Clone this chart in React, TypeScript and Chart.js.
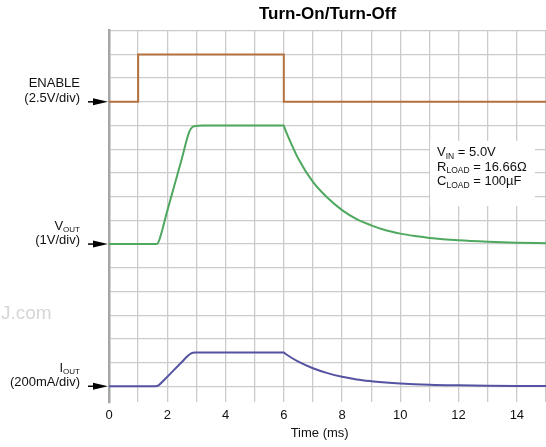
import React, { useEffect, useRef } from "react";
import { Chart, registerables } from "chart.js";
Chart.register(...registerables);

const FONT = "'Liberation Sans', Arial, Helvetica, sans-serif";

const chartTitle = "Turn-On/Turn-Off";
const xAxisTitle = "Time (ms)";
const xLabelTicks = [0, 2, 4, 6, 8, 10, 12, 14];

// ENABLE (V), 2.5 V/div, reference at division 12
const enableT = [0, 1, 1, 6, 6, 15];
const enableV = [0, 0, 5, 5, 0, 0];
// VOUT (V), 1 V/div, reference at division 6
const voutT = [0, 1.64, 1.72, 2.0, 2.5, 2.75, 2.85, 2.95, 3.2, 6.0, 6.04, 6.25, 6.5, 7.0, 7.5, 8.0, 8.5, 9.0, 9.5, 10.0, 10.5, 11.0, 12.0, 13.0, 14.0, 15.0];
const voutV = [0, 0, 0.15, 1.4, 3.6, 4.72, 4.92, 4.98, 5.0, 5.0, 4.86, 4.25, 3.6, 2.62, 1.95, 1.43, 1.05, 0.79, 0.58, 0.44, 0.34, 0.26, 0.16, 0.1, 0.06, 0.03];
// IOUT (mA), 200 mA/div, reference at division 0
const ioutT = [0, 1.6, 1.7, 1.9, 2.2, 2.5, 2.7, 2.82, 2.95, 6.0, 6.04, 6.25, 6.5, 7.0, 7.5, 8.0, 8.5, 9.0, 9.5, 10.0, 11.0, 12.0, 13.0, 14.0, 15.0];
const ioutMA = [0, 0, 8, 55, 130, 205, 255, 278, 285, 285, 277, 243, 208, 152, 111, 80, 58, 43, 31, 23, 13, 8, 5, 3, 2];

const traces = [
  { name: "ENABLE", unit: "(2.5V/div)", sub: "", t: enableT, v: enableV, perDiv: 2.5, ref: 12, color: "#b5723f", smooth: false },
  { name: "V", unit: "(1V/div)", sub: "OUT", t: voutT, v: voutV, perDiv: 1, ref: 6, color: "#4fa85f", smooth: true },
  { name: "I", unit: "(200mA/div)", sub: "OUT", t: ioutT, v: ioutMA, perDiv: 200, ref: 0, color: "#5353a2", smooth: true },
];

const infoLines = [
  [{ t: "V", s: false }, { t: "IN", s: true }, { t: " = 5.0V", s: false }],
  [{ t: "R", s: false }, { t: "LOAD", s: true }, { t: " = 16.66Ω", s: false }],
  [{ t: "C", s: false }, { t: "LOAD", s: true }, { t: " = 100µF", s: false }],
];

type Part = { t: string; s: boolean };

function drawRich(ctx: CanvasRenderingContext2D, parts: Part[], x: number, y: number, size: number, subSize: number, align: "left" | "right") {
  const widths = parts.map((p) => {
    ctx.font = `${p.s ? subSize : size}px ${FONT}`;
    return ctx.measureText(p.t).width;
  });
  const total = widths.reduce((a, b) => a + b, 0);
  let cx = align === "right" ? x - total : x;
  ctx.textAlign = "left";
  ctx.textBaseline = "alphabetic";
  parts.forEach((p, i) => {
    ctx.font = `${p.s ? subSize : size}px ${FONT}`;
    ctx.fillText(p.t, cx, p.s ? y + 2.5 : y);
    cx += widths[i];
  });
}

const annotations = {
  id: "annotations",
  beforeDatasetsDraw(chart: any) {
    const { ctx, scales } = chart;
    const xs = scales.x, ys = scales.y;
    const x0 = xs.getPixelForValue(11.02), x1 = xs.getPixelForValue(14.62);
    const y0 = ys.getPixelForValue(10.35), y1 = ys.getPixelForValue(7.6);
    ctx.save();
    ctx.fillStyle = "#ffffff";
    ctx.fillRect(x0, y0, x1 - x0, y1 - y0);
    ctx.fillStyle = "#111";
    infoLines.forEach((line, i) => {
      drawRich(ctx, line as Part[], x0 + 7, y0 + 15.5 + i * 14.5, 13, 8.5, "left");
    });
    ctx.restore();
  },
  afterDraw(chart: any) {
    const { ctx, scales, chartArea } = chart;
    const ys = scales.y, xs = scales.x;
    ctx.save();
    ctx.fillStyle = "#111";
    traces.forEach((tr) => {
      const y = ys.getPixelForValue(tr.ref);
      const first: Part[] = tr.sub ? [{ t: tr.name, s: false }, { t: tr.sub, s: true }] : [{ t: tr.name, s: false }];
      drawRich(ctx, first, 80, y - 14.5, 13, 8, "right");
      drawRich(ctx, [{ t: tr.unit, s: false }], 80, y, 13, 8, "right");
      ctx.strokeStyle = "#000";
      ctx.lineWidth = 1.5;
      ctx.beginPath();
      ctx.moveTo(88, y);
      ctx.lineTo(96, y);
      ctx.stroke();
      ctx.fillStyle = "#000";
      ctx.beginPath();
      ctx.moveTo(93, y - 3.5);
      ctx.lineTo(chartArea.left - 1, y);
      ctx.lineTo(93, y + 3.5);
      ctx.closePath();
      ctx.fill();
      ctx.fillStyle = "#111";
    });
    ctx.font = `13px ${FONT}`;
    ctx.textAlign = "center";
    ctx.textBaseline = "middle";
    ctx.fillStyle = "#111";
    ctx.fillText(xAxisTitle, xs.getPixelForValue(7.23), 433);
    ctx.font = `19px ${FONT}`;
    ctx.textAlign = "left";
    ctx.textBaseline = "alphabetic";
    ctx.fillStyle = "#d6d6d6";
    ctx.fillText("J.com", 1, 319);
    ctx.restore();
  },
};

export default function App() {
  const ref = useRef<HTMLCanvasElement | null>(null);
  useEffect(() => {
    if (!ref.current) return;
    const datasets = traces.map((tr) => ({
      label: tr.name + tr.sub,
      data: tr.t.map((t, i) => ({ x: t, y: tr.ref + tr.v[i] / tr.perDiv })),
      borderColor: tr.color,
      backgroundColor: tr.color,
      borderWidth: 2,
      pointRadius: 0,
      fill: false,
      tension: 0,
      cubicInterpolationMode: tr.smooth ? ("monotone" as const) : ("default" as const),
    }));
    const chart = new Chart(ref.current, {
      type: "line",
      data: { datasets },
      plugins: [annotations],
      options: {
        animation: false,
        responsive: false,
        layout: { padding: { left: 109, right: 0, top: 0, bottom: 19 } },
        plugins: {
          legend: { display: false },
          tooltip: { enabled: false },
          title: {
            display: true,
            text: chartTitle,
            fullSize: false,
            color: "#000",
            font: { family: FONT, size: 17, weight: "bold" },
            padding: { top: 4.5, bottom: 5.8 },
          },
        },
        scales: {
          x: {
            type: "linear",
            min: 0,
            max: 15,
            border: { display: false },
            grid: { color: "#cbcbcb", lineWidth: 1.3, drawTicks: false },
            afterFit: (axis: any) => {
              axis.paddingLeft = 0;
              axis.paddingRight = 0;
            },
            ticks: {
              stepSize: 1,
              autoSkip: false,
              maxRotation: 0,
              padding: 5,
              color: "#111",
              font: { family: FONT, size: 13 },
              callback: (v: any) => (xLabelTicks.includes(Number(v)) ? String(v) : ""),
            },
          },
          y: {
            type: "linear",
            min: -0.68,
            max: 15,
            border: { display: true, color: "#a6a6a6", width: 2.5 },
            grid: { color: "#cbcbcb", lineWidth: 1.3, drawTicks: false },
            ticks: { display: false, stepSize: 1 },
            afterBuildTicks: (axis: any) => {
              axis.ticks = axis.ticks.filter((t: any) => Number.isInteger(Math.round(t.value * 1000) / 1000) && t.value >= 0);
            },
          },
        },
      },
    });
    return () => chart.destroy();
  }, []);
  return (
    <div style={{ position: "absolute", left: 0, top: 0, width: 546, height: 447, background: "#fff" }}>
      <canvas ref={ref} width={546} height={447} />
    </div>
  );
}
